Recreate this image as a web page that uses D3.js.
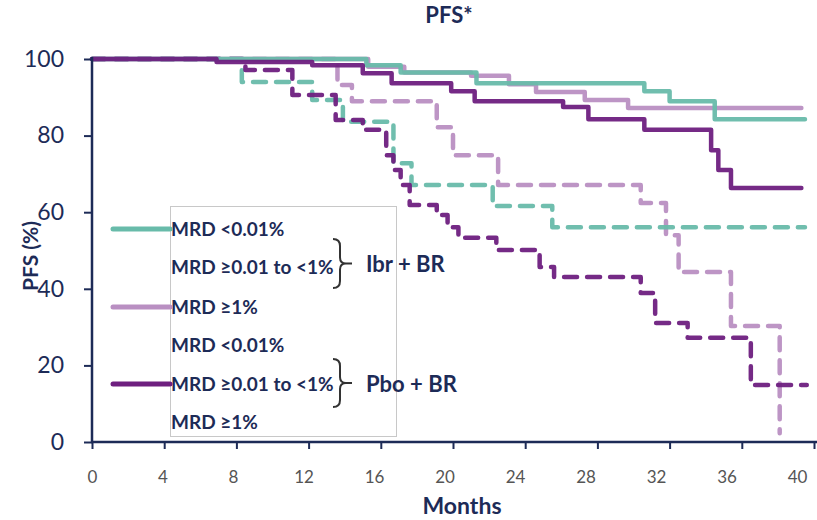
<!DOCTYPE html>
<html><head><meta charset="utf-8">
<script src="https://cdn.jsdelivr.net/npm/d3@7"></script>
<style>
body{margin:0;background:#fff;}
svg{display:block;font-family:Lato,"Open Sans",sans-serif;}
</style></head>
<body>
<svg id="chart" width="817" height="520"></svg>
<script>
// ---- data (months, PFS %) ----
const xTicks = [0,4,8,12,16,20,24,28,32,36,40];
const yTicks = [0,20,40,60,80,100];

const ibrLow_t  = [0,15.2,17.1,21.3,30.6,32.0,34.5,39.5];
const ibrLow_v  = [100,98.4,96.5,93.7,91.6,89.0,84.3,84.3];

const ibrHigh_t = [0,15.3,17.3,21.0,23.1,24.6,27.3,29.7,39.3];
const ibrHigh_v = [100,98.0,96.5,95.6,93.4,91.4,89.3,87.2,87.2];

const ibrMid_t  = [0,6.9,12.2,15.0,16.6,19.9,21.2,26.1,27.5,30.6,34.3,34.7,35.4,39.3];
const ibrMid_v  = [100,99.2,98.4,96.3,93.7,91.6,89.0,87.5,84.3,81.5,76.2,71.0,66.3,66.3];

const pboLow_t  = [0,8.3,12.2,13.9,16.7,17.7,22.2,25.5,39.5];
const pboLow_v  = [100,94.0,89.3,83.6,72.8,67.1,61.6,56.1,56.1];

const pboMid_t  = [0,8.5,11.1,13.5,15.0,16.3,16.7,17.1,17.6,19.1,19.7,20.3,22.4,24.8,25.6,30.4,31.2,33.0,36.5,39.6];
const pboMid_v  = [100,97.1,90.6,84.1,81.5,74.9,71.0,67.1,61.9,59.3,56.1,53.3,50.1,45.7,43.1,38.9,31.1,27.2,14.9,14.9];

const pboHigh_t = [0,13.6,14.4,19.1,20.0,22.5,30.4,31.8,32.5,35.4,38.1];
const pboHigh_v = [100,93.2,89.0,82.2,74.9,67.1,62.4,54.0,44.4,30.3,2.3];

const legendLabels = ["MRD <0.01%","MRD \u22650.01 to <1%","MRD \u22651%","MRD <0.01%","MRD \u22650.01 to <1%","MRD \u22651%"];
const groupLabels = ["Ibr + BR","Pbo + BR"];

// ---- styles ----
const TEAL="#68bbaa", LPUR="#b98fc2", DPUR="#6e1f7f", NAVY="#1d2b57";
const series = [
  {t:pboHigh_t, v:pboHigh_v, c:LPUR, dash:true},
  {t:pboLow_t,  v:pboLow_v,  c:TEAL, dash:true},
  {t:pboMid_t,  v:pboMid_v,  c:DPUR, dash:true},
  {t:ibrHigh_t, v:ibrHigh_v, c:LPUR, dash:false},
  {t:ibrLow_t,  v:ibrLow_v,  c:TEAL, dash:false},
  {t:ibrMid_t,  v:ibrMid_v,  c:DPUR, dash:false}
];

const svg = d3.select("#chart");
const x = d3.scaleLinear().domain([0,40]).range([92,814]);
const xLab = d3.scaleLinear().domain([0,40]).range([92,797]);
const y = d3.scaleLinear().domain([0,100]).range([442,59]);

// title
svg.append("text").attr("x",449).attr("y",23).attr("text-anchor","middle")
  .attr("font-size",22).attr("font-weight","bold").attr("fill",NAVY).text("PFS*");

// legend box
svg.append("rect").attr("x",170.5).attr("y",206.5).attr("width",226).attr("height",230)
  .attr("fill","#fff").attr("stroke","#c8c8c8").attr("stroke-width",1);

// lines
const line = d3.line().x(d=>x(d[0])).y(d=>y(d[1])).curve(d3.curveStepAfter);
series.forEach(s=>{
  const pts = s.t.map((t,i)=>[t,s.v[i]]);
  svg.append("path").attr("d",line(pts)).attr("fill","none")
    .attr("stroke",s.c).attr("stroke-width",4.5)
    .attr("stroke-linecap","round").attr("stroke-linejoin","round")
    .attr("stroke-dasharray", s.dash ? "13,10" : null)
    .attr("opacity",0.95);
});

// y axis
const yAxis = svg.append("g").attr("transform","translate(92,0)")
  .call(d3.axisLeft(y).tickValues(yTicks).tickSize(8).tickPadding(20).tickSizeOuter(0));
yAxis.select(".domain").remove();
yAxis.selectAll("line").attr("stroke",NAVY).attr("stroke-width",2);
yAxis.selectAll("text").attr("font-size",23).attr("fill",NAVY).attr("font-family","Lato, sans-serif");
svg.append("line").attr("x1",92).attr("x2",92).attr("y1",57).attr("y2",443).attr("stroke",NAVY).attr("stroke-width",2.5);

// x axis
const xAxis = svg.append("g").attr("transform","translate(0,442)")
  .call(d3.axisBottom(x).tickValues(xTicks).tickSize(7).tickSizeOuter(0).tickFormat(d3.format("d")));
xAxis.select(".domain").remove();
xAxis.selectAll("line").attr("stroke",NAVY).attr("stroke-width",2);
xAxis.selectAll("text").attr("font-size",17).attr("fill","#555").attr("font-family","Lato, sans-serif")
  .attr("y",41).attr("dy",0).attr("x",d=>xLab(d)-x(d));
svg.append("line").attr("x1",91).attr("x2",817).attr("y1",442).attr("y2",442).attr("stroke",NAVY).attr("stroke-width",2.5);

// axis titles
svg.append("text").attr("x",462).attr("y",514).attr("text-anchor","middle")
  .attr("font-size",23).attr("font-weight","bold").attr("fill",NAVY).text("Months");
svg.append("text").attr("transform","translate(38,256) rotate(-90)").attr("text-anchor","middle")
  .attr("font-size",21).attr("font-weight","bold").attr("fill",NAVY).text("PFS (%)");

// legend
const legY = [229,267,307,345,384,422];
legendLabels.forEach((l,i)=>{
  svg.append("text").attr("x",171).attr("y",legY[i]).attr("dy","0.35em")
    .attr("font-size",19).attr("font-weight","bold").attr("fill",NAVY).text(l);
});
const legLines = [{i:0,c:TEAL},{i:2,c:LPUR},{i:4,c:DPUR}];
legLines.forEach(d=>{
  svg.append("line").attr("x1",113).attr("x2",170).attr("y1",legY[d.i]).attr("y2",legY[d.i])
    .attr("stroke",d.c).attr("stroke-width",5).attr("stroke-linecap","round");
});
// braces
function brace(top,bot){
  const m=(top+bot)/2;
  return `M333,${top} Q340,${top} 340,${top+7} L340,${m-6} Q340,${m} 346,${m} L352,${m} M346,${m} Q340,${m} 340,${m+6} L340,${bot-7} Q340,${bot} 333,${bot}`;
}
[[239,288],[359,407]].forEach((b,i)=>{
  svg.append("path").attr("d",brace(b[0],b[1])).attr("fill","none").attr("stroke","#333").attr("stroke-width",2);
  svg.append("text").attr("x",366).attr("y",(b[0]+b[1])/2+1).attr("dy","0.35em")
    .attr("font-size",22).attr("font-weight","bold").attr("fill",NAVY).text(groupLabels[i]);
});
</script>
</body></html>
